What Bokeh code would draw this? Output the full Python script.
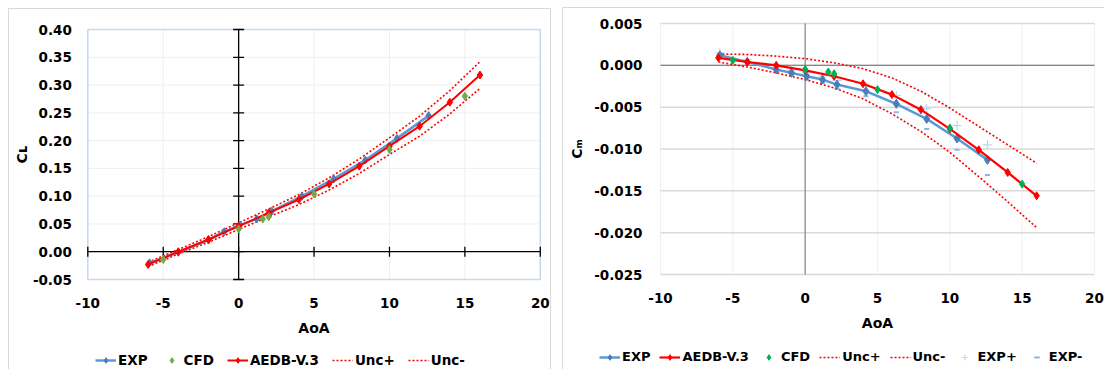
from math import pi
from bokeh.plotting import figure
from bokeh.models import Range1d, FixedTicker, NumeralTickFormatter, Legend, LegendItem
from bokeh.layouts import row
from bokeh.embed import file_html
from bokeh.resources import INLINE

# ---------------- data: left chart (lift coefficient) ----------------
aoa_ticks = [-10, -5, 0, 5, 10, 15, 20]
cl_ticks = [-0.05, 0.0, 0.05, 0.10, 0.15, 0.20, 0.25, 0.30, 0.35, 0.40]

exp_aoa = [-5.9, -4.0, -2.0, -0.95, 0.1, 1.2, 2.2, 4.2, 6.3, 8.4, 10.5, 12.6]
exp_cl = [-0.020, -0.001, 0.021, 0.036, 0.048, 0.059, 0.073, 0.100, 0.131, 0.165, 0.204, 0.245]

cfd_aoa = [-5, 0, 1.6, 2, 5, 10, 15]
cfd_cl = [-0.014, 0.041, 0.059, 0.063, 0.104, 0.184, 0.280]

aedb_aoa = [-6, -4, -2, 0, 2, 4, 6, 8, 10, 12, 14, 16]
aedb_cl = [-0.023, 0.000, 0.022, 0.046, 0.070, 0.094, 0.122, 0.154, 0.190, 0.226, 0.269, 0.318]
unc_plus_cl = [-0.019, 0.004, 0.027, 0.052, 0.077, 0.103, 0.133, 0.167, 0.205, 0.244, 0.290, 0.342]
unc_minus_cl = [-0.027, -0.004, 0.017, 0.040, 0.063, 0.085, 0.111, 0.141, 0.175, 0.208, 0.248, 0.294]

# ---------------- data: right chart (moment coefficient) ----------------
cm_ticks = [-0.025, -0.020, -0.015, -0.010, -0.005, 0.0, 0.005]

exp_cm = [0.0012, 0.0004, -0.0005, -0.0009, -0.0013, -0.0017, -0.0023, -0.0031, -0.0046, -0.0064, -0.00875, -0.0113]
exp_plus_cm = [0.0015, 0.0007, -0.0002, -0.0006, -0.0009, -0.0013, -0.0018, -0.0025, -0.0036, -0.0052, -0.0072, -0.0095]
exp_minus_cm = [0.0009, 0.0001, -0.0008, -0.0012, -0.0017, -0.0021, -0.0028, -0.0037, -0.0056, -0.0076, -0.0101, -0.0131]

cfd_cm = [0.0006, -0.0005, -0.0008, -0.0010, -0.0029, -0.0075, -0.0142]

aedb_cm = [0.0009, 0.0004, 0.0000, -0.0006, -0.0013, -0.0022, -0.0035, -0.0053, -0.0076, -0.0101, -0.0128, -0.0156]
unc_plus_cm = [0.00135, 0.0013, 0.0011, 0.0008, 0.0003, -0.0004, -0.0015, -0.0031, -0.0051, -0.0073, -0.0095, -0.0117]
unc_minus_cm = [0.0004, -0.0002, -0.0009, -0.0017, -0.0027, -0.0040, -0.0058, -0.0079, -0.0104, -0.0133, -0.0163, -0.0194]

FONT = "DejaVu Sans"
FS = "13.5px"
EXP_LINE = "#5B9BD5"
EXP_MARK = "#4A7EBB"
RED = "#FF0000"


def make_fig(canvas, area, xlim, ylim):
    """canvas = (left, top, width, height) of the figure in the page;
    area = (left, top, right, bottom) pixel box of the plotting area."""
    cx, cy, cw, ch = canvas
    al, at, ar, ab = area
    kx = (ar - al) / (xlim[1] - xlim[0])
    ky = (ab - at) / (ylim[1] - ylim[0])
    xr = Range1d(xlim[0] - (al - cx) / kx, xlim[1] + (cx + cw - ar) / kx)
    yr = Range1d(ylim[0] - (cy + ch - ab) / ky, ylim[1] + (at - cy) / ky)
    p = figure(width=cw, height=ch, x_range=xr, y_range=yr, output_backend="svg",
               toolbar_location=None, min_border=0)
    p.styles = {"outline": "1px solid #D9D9D9"}
    p.outline_line_color = None
    p.xgrid.visible = False
    p.ygrid.visible = False
    return p


def style_axes(p, xlim, ylim, yticks, yfmt, xstand, ystand, lab_stand, ylabel, ylab_stand):
    for ax in (p.xaxis[0], p.yaxis[0]):
        ax.axis_line_color = None
        ax.major_tick_line_color = None
        ax.minor_tick_line_color = None
        ax.major_tick_out = 0
        ax.major_tick_in = 0
        ax.major_label_text_font = FONT
        ax.major_label_text_font_style = "bold"
        ax.major_label_text_font_size = FS
        ax.major_label_text_color = "#000000"
        ax.axis_label_text_font = FONT
        ax.axis_label_text_font_style = "bold"
        ax.axis_label_text_font_size = "14px"
        ax.axis_label_text_color = "#000000"
    xa, ya = p.xaxis[0], p.yaxis[0]
    xa.fixed_location = ylim[0]
    xa.bounds = xlim
    xa.ticker = FixedTicker(ticks=aoa_ticks)
    xa.formatter = NumeralTickFormatter(format="0")
    xa.major_label_standoff = xstand
    xa.axis_label = "AoA"
    xa.axis_label_standoff = lab_stand
    ya.fixed_location = xlim[0]
    ya.bounds = ylim
    ya.ticker = FixedTicker(ticks=yticks)
    ya.major_label_standoff = ystand
    ya.formatter = NumeralTickFormatter(format=yfmt)
    ya.axis_label = ylabel
    ya.axis_label_standoff = ylab_stand


def grid_lines(p, xlim, ylim, yticks, vcolor, hcolor, hwidth):
    n, m = len(aoa_ticks), len(yticks)
    p.segment(x0=aoa_ticks, y0=[ylim[0]] * n, x1=aoa_ticks, y1=[ylim[1]] * n,
              line_color=vcolor, line_width=1)
    p.segment(x0=[xlim[0]] * m, y0=yticks, x1=[xlim[1]] * m, y1=yticks,
              line_color=hcolor, line_width=hwidth)


def add_legend(p, items, loc, spacing, size):
    lg = Legend(items=items, orientation="horizontal", location=loc,
                glyph_width=21, glyph_height=14, label_standoff=2, spacing=spacing,
                padding=0, margin=0, border_line_color=None, background_fill_alpha=0,
                label_text_font=FONT, label_text_font_style="bold",
                label_text_font_size=size, label_text_color="#000000", label_height=14)
    p.add_layout(lg)


# ======================= left chart =======================
XL = (-10, 20)
YL1 = (-0.05, 0.40)
p1 = make_fig((9, 9, 541, 360), (87.3, 29, 539.8, 279), XL, YL1)
p1.margin = (9, 0, 0, 9)
style_axes(p1, XL, YL1, cl_ticks, "0.00", 18, 16, 9, "C\u029f", 0)
grid_lines(p1, XL, YL1, cl_ticks, "#EFEFEF", "#EFEFEF", 1)
p1.quad(left=XL[0], right=XL[1], bottom=YL1[0], top=YL1[1], fill_color=None,
        line_color="#C5DAEF", line_width=1.5)

# axes crossing at the origin, with cross ticks
p1.segment(x0=[0], y0=[YL1[0]], x1=[0], y1=[YL1[1]], line_color="black", line_width=1.3)
p1.segment(x0=[XL[0]], y0=[0], x1=[XL[1]], y1=[0], line_color="black", line_width=1.3)
p1.scatter(x=[0] * len(cl_ticks), y=cl_ticks, marker="dash", size=11, line_color="black", line_width=1.3)
p1.scatter(x=aoa_ticks, y=[0] * len(aoa_ticks), marker="dash", angle=pi / 2, size=10,
           line_color="black", line_width=1.3)

l_up = p1.line(aedb_aoa, unc_plus_cl, line_color=RED, line_width=1.6, line_dash="2 2")
l_dn = p1.line(aedb_aoa, unc_minus_cl, line_color=RED, line_width=1.6, line_dash="2 2")
l_exp = p1.line(exp_aoa, exp_cl, line_color=EXP_LINE, line_width=2.5)
m_exp = p1.scatter(exp_aoa, exp_cl, marker="diamond", size=8, fill_color=EXP_MARK, line_color=EXP_MARK)
l_aedb = p1.line(aedb_aoa, aedb_cl, line_color=RED, line_width=2)
m_aedb = p1.scatter(aedb_aoa, aedb_cl, marker="diamond", size=8, fill_color=RED, line_color=RED)
m_cfd = p1.scatter(cfd_aoa, cfd_cl, marker="diamond", size=8, fill_color="#70AD47", line_color="#70AD47")

add_legend(p1, [
    LegendItem(label="EXP", renderers=[l_exp, m_exp]),
    LegendItem(label="CFD", renderers=[m_cfd]),
    LegendItem(label="AEDB-V.3", renderers=[l_aedb, m_aedb]),
    LegendItem(label="Unc+", renderers=[l_up]),
    LegendItem(label="Unc-", renderers=[l_dn]),
], (86, 1), 13, FS)

# ======================= right chart =======================
YL2 = (-0.025, 0.005)
p2 = make_fig((563, 8, 541, 361), (660, 23, 1094, 274), XL, YL2)
p2.margin = (8, 0, 0, 13)
style_axes(p2, XL, YL2, cm_ticks, "0.000", 18, 18, 9, "C\u2098", 6)
grid_lines(p2, XL, YL2, cm_ticks, "#F0F0F0", "#D9D9D9", 1.5)

p2.segment(x0=[0], y0=[YL2[0]], x1=[0], y1=[YL2[1]], line_color="#868686", line_width=1.2)
p2.segment(x0=[XL[0]], y0=[0], x1=[XL[1]], y1=[0], line_color="#868686", line_width=1.2)

m_ep = p2.scatter(exp_aoa, exp_plus_cm, marker="cross", size=9, line_color="#BDD7EE", line_width=1.2)
m_em = p2.scatter(exp_aoa, exp_minus_cm, marker="dash", size=5, line_color="#8FB4E0", line_width=2)
r_up = p2.line(aedb_aoa, unc_plus_cm, line_color=RED, line_width=1.6, line_dash="2 2")
r_dn = p2.line(aedb_aoa, unc_minus_cm, line_color=RED, line_width=1.6, line_dash="2 2")
r_exp = p2.line(exp_aoa, exp_cm, line_color=EXP_LINE, line_width=2.5)
rm_exp = p2.scatter(exp_aoa, exp_cm, marker="diamond", size=9, fill_color=EXP_MARK, line_color=EXP_MARK)
r_aedb = p2.line(aedb_aoa, aedb_cm, line_color=RED, line_width=2.2)
rm_aedb = p2.scatter(aedb_aoa, aedb_cm, marker="diamond", size=8, fill_color=RED, line_color=RED)
rm_cfd = p2.scatter(cfd_aoa, cfd_cm, marker="diamond", size=8, fill_color="#00B050", line_color="#00B050")

add_legend(p2, [
    LegendItem(label="EXP", renderers=[r_exp, rm_exp]),
    LegendItem(label="AEDB-V.3", renderers=[r_aedb, rm_aedb]),
    LegendItem(label="CFD", renderers=[rm_cfd]),
    LegendItem(label="Unc+", renderers=[r_up]),
    LegendItem(label="Unc-", renderers=[r_dn]),
    LegendItem(label="EXP+", renderers=[m_ep]),
    LegendItem(label="EXP-", renderers=[m_em]),
], (36, 5), 9, "13px")

layout = row(p1, p2, spacing=0)
open("out.html", "w").write(file_html(layout, INLINE))
